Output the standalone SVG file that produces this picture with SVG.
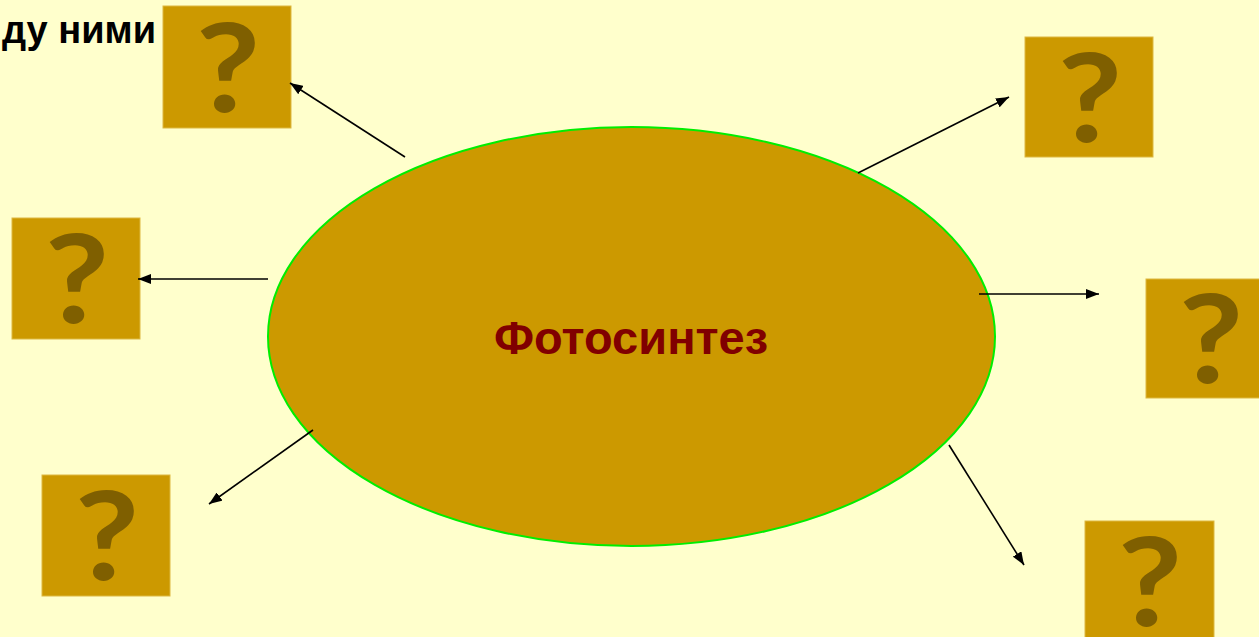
<svg xmlns="http://www.w3.org/2000/svg" width="1259" height="637" viewBox="0 0 1259 637">
<defs>
<style>
.box{fill:#CC9900;stroke:#DDB840;stroke-width:1}
.q{font-family:Lato,"Liberation Sans",Arial,sans-serif;font-weight:bold;font-size:122px;fill:#7F5F00;text-anchor:middle}
.conn line{stroke:#000;stroke-width:1.6;fill:none}
.title{font-family:"Liberation Sans",Arial,sans-serif;font-weight:bold;font-size:38px;fill:#000}
.main{font-family:"Liberation Sans",Arial,sans-serif;font-weight:bold;font-size:47px;fill:#800000;text-anchor:middle}
</style>
<marker id="ah" markerUnits="userSpaceOnUse" markerWidth="14" markerHeight="10" refX="13" refY="5" orient="auto">
<path d="M0,0 L13,5 L0,10 Z" fill="#000"/>
</marker>
</defs>
<rect width="1259" height="637" fill="#FFFFCC"/>
<text class="title" x="156" y="43" text-anchor="end">ду ними</text>
<g id="center">
<ellipse cx="631.5" cy="336.5" rx="363.5" ry="209.5" fill="#CC9900" stroke="#00EE00" stroke-width="2"/>
<text class="main" x="631" y="354">Фотосинтез</text>
</g>
<g id="q1"><rect class="box" x="163" y="6" width="128" height="122"/><text class="q" transform="translate(228,112) scale(1.15,1)">?</text></g>
<g id="q2"><rect class="box" x="1025" y="37" width="128" height="120"/><text class="q" transform="translate(1090,142) scale(1.15,1)">?</text></g>
<g id="q3"><rect class="box" x="12" y="218" width="128" height="121"/><text class="q" transform="translate(77,323) scale(1.15,1)">?</text></g>
<g id="q4"><rect class="box" x="1146" y="279" width="128" height="119"/><text class="q" transform="translate(1211,383) scale(1.15,1)">?</text></g>
<g id="q5"><rect class="box" x="42" y="475" width="128" height="121"/><text class="q" transform="translate(107,580) scale(1.15,1)">?</text></g>
<g id="q6"><rect class="box" x="1085" y="521" width="129" height="121"/><text class="q" transform="translate(1150,626) scale(1.15,1)">?</text></g>
<g id="connectors" class="conn">
<line x1="405" y1="157" x2="290" y2="83" marker-end="url(#ah)"/>
<line x1="858" y1="173" x2="1009" y2="97" marker-end="url(#ah)"/>
<line x1="268" y1="279" x2="138" y2="279" marker-end="url(#ah)"/>
<line x1="313" y1="430" x2="209" y2="504" marker-end="url(#ah)"/>
<line x1="979" y1="294" x2="1099" y2="294" marker-end="url(#ah)"/>
<line x1="949" y1="445" x2="1024" y2="565" marker-end="url(#ah)"/>
</g>
</svg>
